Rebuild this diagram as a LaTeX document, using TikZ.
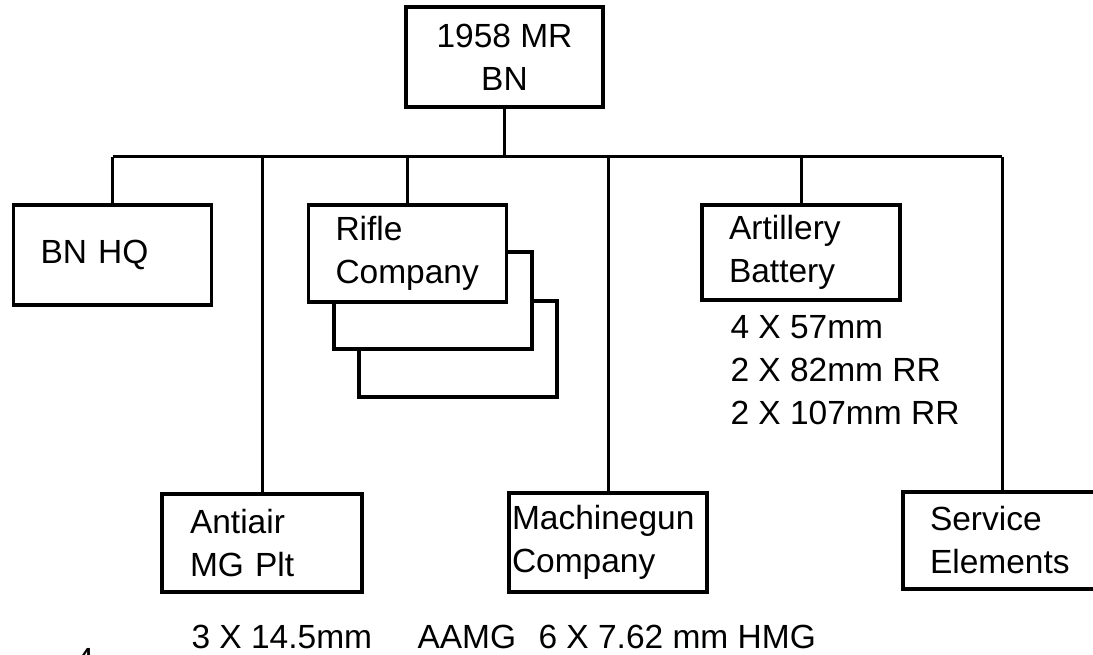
\documentclass[tikz,border=0pt]{standalone}
\usepackage{fontspec}
\setmainfont{Liberation Sans}

\tikzset{
  unitbox/.style={draw, line width=3.2pt, fill=white, align=left,
    inner xsep=27pt, inner ysep=0pt, text width=144pt,
    minimum width=198pt, minimum height=97pt},
  note/.style={inner sep=0pt, align=left, anchor=west}
}

\begin{document}
\begin{tikzpicture}[x=1pt,y=-1pt,line width=3pt,font=\fontsize{33.5pt}{43pt}\selectfont]
        \useasboundingbox (0,0) rectangle (1093,655);
        \clip (0,0) rectangle (1093,655);

        \node[unitbox, align=center, text width=, inner xsep=0pt, minimum width=197pt, minimum height=100pt] (bn) at (504.5, 57) {1958 MR\\BN};
        \node[unitbox, minimum height=100pt] (hq) at (112.5, 255) {BN HQ};

        % rifle companies, stacked
        \node[unitbox, minimum height=96pt] (rifle3) at (458, 349) {};
        \node[unitbox] (rifle2) at (433, 300.5) {};
        \node[unitbox] (rifle) at (407.5, 253.5) {Rifle\\Company};

        \node[unitbox, minimum height=95pt] (arty) at (801, 252.5) {Artillery\\Battery};
        \node[note] (artyguns) at (729, 370) {4 X 57mm\\2 X 82mm RR\\2 X 107mm RR};

        \node[unitbox, minimum width=200pt, minimum height=98pt] (aa) at (262, 543) {Antiair\\MG Plt};
        \node[unitbox, inner xsep=3pt, text width=192pt, minimum height=99pt] (mg) at (608, 542.5) {Machinegun\\Company};
        \node[unitbox] (svc) at (1002, 540.5) {Service\\Elements};

        \node[note] (aaguns) at (190, 637) {3 X 14.5mm};
        \node[note] (aamg) at (416, 637) {AAMG};
        \node[note] (mgguns) at (537, 637) {6 X 7.62 mm HMG};

        \node (pageno) at (85, 660) {4};

        % connectors
        \draw (bn.south) -- ++(0,48) coordinate (bus);
        \draw (hq.north |- bus) -- (svc.north |- bus);
        \draw (hq.north) -- (hq.north |- bus);
        \draw (aa.north) -- (aa.north |- bus);
        \draw (rifle.north) -- (rifle.north |- bus);
        \draw (mg.north) -- (mg.north |- bus);
        \draw (arty.north) -- (arty.north |- bus);
        \draw (svc.north) -- (svc.north |- bus);
    \end{tikzpicture}
\end{document}
